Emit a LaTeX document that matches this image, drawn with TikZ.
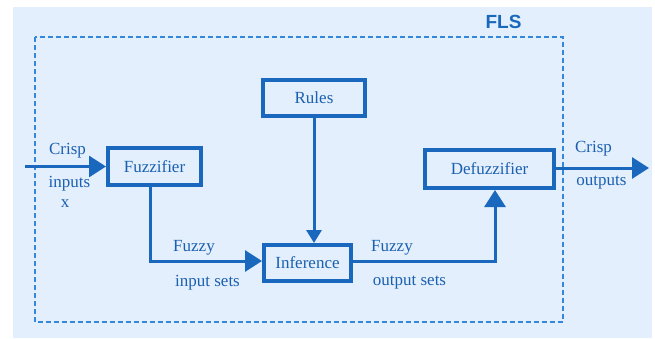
\documentclass[tikz,border=0pt]{standalone}
\usepackage{fontspec}
\setmainfont{Liberation Serif}
\newfontfamily\flsfont{Liberation Sans}
\usetikzlibrary{arrows.meta}
\definecolor{bgblue}{HTML}{E3EFFC}
\definecolor{lineblue}{HTML}{1A68BE}
\definecolor{dashblue}{HTML}{3388DD}
\definecolor{textblue}{HTML}{1B60B0}
\tikzset{
  blockbox/.style={draw=lineblue, line width=4pt, rectangle, inner sep=0pt,
    text=textblue, font=\fontsize{17}{20}\selectfont},
  conn/.style={draw=lineblue, line width=3pt},
  lbl/.style={text=textblue, font=\fontsize{17}{20}\selectfont, inner sep=0pt},
  bigtip/.style={-{Triangle[length=17pt,width=21pt]}},
  smalltip/.style={-{Triangle[length=13pt,width=15pt]}}
}
\begin{document}
\begin{tikzpicture}[x=1pt,y=-1pt]
\useasboundingbox (0,0) rectangle (655,338);
\fill[bgblue] (13,7) rectangle (652,338);
\draw[dashblue, line width=2pt, dash pattern=on 5pt off 3pt] (35,37) rectangle (563,322);
\node[text=lineblue, font=\flsfont\bfseries\fontsize{19}{22}\selectfont] (fls) at (503.5,22) {FLS};

\node[blockbox, minimum width=102pt, minimum height=36pt] (rules) at (314,97.5) {Rules};
\node[blockbox, minimum width=93pt, minimum height=37pt] (fuzz) at (154.5,166.5) {Fuzzifier};
\node[blockbox, minimum width=129pt, minimum height=38pt] (defuzz) at (489.5,169) {Defuzzifier};
\node[blockbox, minimum width=87pt, minimum height=36pt] (inf) at (307.5,263) {Inference};

\coordinate (in) at (25,166.5);
\coordinate (out) at (649,168);

\draw[conn, bigtip] (in) -- (fuzz.west);
\draw[conn, bigtip] (defuzz.east |- out) -- (out);
\draw[conn, bigtip] ([xshift=-4.5pt]fuzz.south) |- ([yshift=2pt]inf.west);
\draw[conn, bigtip] ([yshift=2pt]inf.east) -| ([xshift=5.5pt]defuzz.south);
\draw[conn, smalltip] (rules.south) -- (rules.south |- inf.north);

\node[lbl] (crispin) at (67.5,151) {Crisp};
\node[lbl] (inputs) at (69.5,184) {inputs};
\node[lbl] (xin) at (65,204) {x};
\node[lbl] (fuzzyin) at (194,248) {Fuzzy};
\node[lbl] (inputsets) at (207.5,283) {input sets};
\node[lbl] (fuzzyout) at (392,248) {Fuzzy};
\node[lbl] (outputsets) at (409.5,283) {output sets};
\node[lbl] (crispout) at (593.5,149) {Crisp};
\node[lbl] (outputs) at (601.5,183) {outputs};
\end{tikzpicture}
\end{document}
